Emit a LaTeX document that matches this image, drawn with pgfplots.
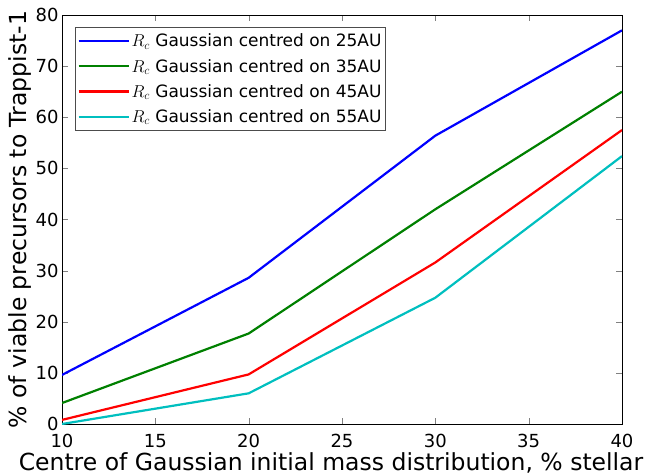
\documentclass[border=0pt]{standalone}
\usepackage{pgfplots}
\pgfplotsset{compat=1.18}
\usepackage{fontspec}
\setmainfont{DejaVu Sans}
\definecolor{mblue}{rgb}{0,0,1}
\definecolor{mgreen}{rgb}{0,0.5,0}
\definecolor{mred}{rgb}{1,0,0}
\definecolor{mcyan}{rgb}{0,0.75,0.75}
\begin{document}
\begin{tikzpicture}
\begin{axis}[
  at={(0,0)}, anchor=south west,
  scale only axis,
  width=560bp, height=409bp,
  xmin=10, xmax=40, ymin=0, ymax=80,
  xtick={10,15,...,40}, ytick={0,10,...,80},
  tick align=inside, tick pos=both,
  major tick length=6bp,
  /pgf/number format/assume math mode=true,
  ticklabel style={font=\fontsize{18bp}{20bp}\selectfont},
  xticklabel style={yshift=-7bp},
  xlabel={Centre of Gaussian initial mass distribution, \% stellar},
  ylabel={\% of viable precursors to Trappist-1},
  xlabel style={font=\fontsize{23.5bp}{25bp}\selectfont, yshift=2bp, xshift=-11bp},
  ylabel style={font=\fontsize{23.5bp}{25bp}\selectfont, yshift=-3bp},
  axis line style={line width=0.8bp},
  legend style={at={(13bp,397bp)}, anchor=north west, font=\fontsize{17bp}{19bp}\selectfont, draw=black!70, line width=0.8bp, inner xsep=2bp, inner ysep=4.5bp, row sep=6.8bp},
  legend cell align=left,
  legend image code/.code={\path (0bp,0bp) -- (50bp,0bp); \draw[#1] (10bp,0bp) -- (37bp,0bp);},
  every axis plot/.append style={line width=2.2bp},
]
\addplot[mblue] coordinates {(10,9.6) (20,28.6) (30,56.4) (40,77.0)};
\addlegendentry{$R_c$ Gaussian centred on 25AU}
\addplot[mgreen] coordinates {(10,4.1) (20,17.7) (30,42.0) (40,65.0)};
\addlegendentry{$R_c$ Gaussian centred on 35AU}
\addplot[mred] coordinates {(10,0.8) (20,9.7) (30,31.6) (40,57.5)};
\addlegendentry{$R_c$ Gaussian centred on 45AU}
\addplot[mcyan] coordinates {(10,0.0) (20,6.0) (30,24.7) (40,52.4)};
\addlegendentry{$R_c$ Gaussian centred on 55AU}
\end{axis}
\pgfresetboundingbox
\path[use as bounding box] (-62bp,-52bp) rectangle (586bp,424bp);
\end{tikzpicture}
\end{document}
